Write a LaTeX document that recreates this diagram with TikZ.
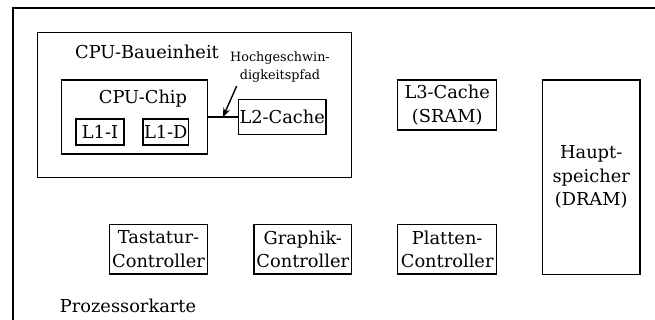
\documentclass[tikz,border=0pt]{standalone}
\usepackage{fontspec}
\setmainfont{DejaVu Serif}
\usetikzlibrary{arrows.meta, positioning}

\begin{document}
\begin{tikzpicture}[x=0.5pt, y=-0.5pt,
  box/.style={draw, rectangle, line width=0.7pt, inner sep=0.5pt, align=center, font=\fontsize{8.9}{11.7}\selectfont},
  lbl/.style={align=center, inner sep=0pt, font=\fontsize{8.9}{11.7}\selectfont},
  small/.style={align=center, inner sep=0pt, font=\fontsize{6.4}{9}\selectfont},
  con/.style={line width=0.7pt}
]
  \useasboundingbox (0,0) rectangle (655,320);
  % Prozessorkarte, runs past the right and bottom edge
  \draw[con] (13,320) -- (13,8) -- (655,8);
  \node[lbl] (karte) at (128,306) {Prozessorkarte};

  % CPU-Baueinheit
  \node[box, minimum width=157pt, minimum height=72.7pt] (unit) at (194.7,105) {};
  \node[lbl] (unitlabel) at (147,52) {CPU-Baueinheit};
  \node[box, minimum width=73pt, minimum height=37pt] (chip) at (134.7,117) {};
  \node[lbl] (chiplabel) at (143,99) {CPU-Chip};
  \node[box, minimum width=24pt, minimum height=13pt] (l1i) at (100,132) {L1-I};
  \node[box, minimum width=22.5pt, minimum height=13pt] (l1d) at (165.8,132) {L1-D};
  \node[box, minimum width=42.8pt, minimum height=17.7pt] (l2) at (282.2,117) {L2-Cache};
  \node[small] (pfadlabel) at (280,67) {Hochgeschwin-\\digkeitspfad};
  \coordinate (pfadstart) at (236.7,86);
  \coordinate (pfad) at (223,117);

  % Speicher und Controller
  \node[box, minimum width=49.5pt, minimum height=25pt] (l3) at (447.2,105) {L3-Cache\\(SRAM)};
  \node[box, minimum width=48.8pt, minimum height=97.2pt] (ram) at (591.2,177.2) {Haupt-\\speicher\\(DRAM)};
  \node[box, minimum width=49.2pt, minimum height=24.9pt] (tast) at (158.5,249.2) {Tastatur-\\Controller};
  \node[box, minimum width=48.8pt, minimum height=24.9pt] (graph) at (302.8,249.2) {Graphik-\\Controller};
  \node[box, minimum width=49.5pt, minimum height=24.9pt] (platte) at (447.2,249.3) {Platten-\\Controller};

  \draw[con] (chip) -- (l2);
  \draw[con, -{Stealth[length=4.5pt, width=3.5pt]}] (pfadstart) -- (pfad);
\end{tikzpicture}
\end{document}
